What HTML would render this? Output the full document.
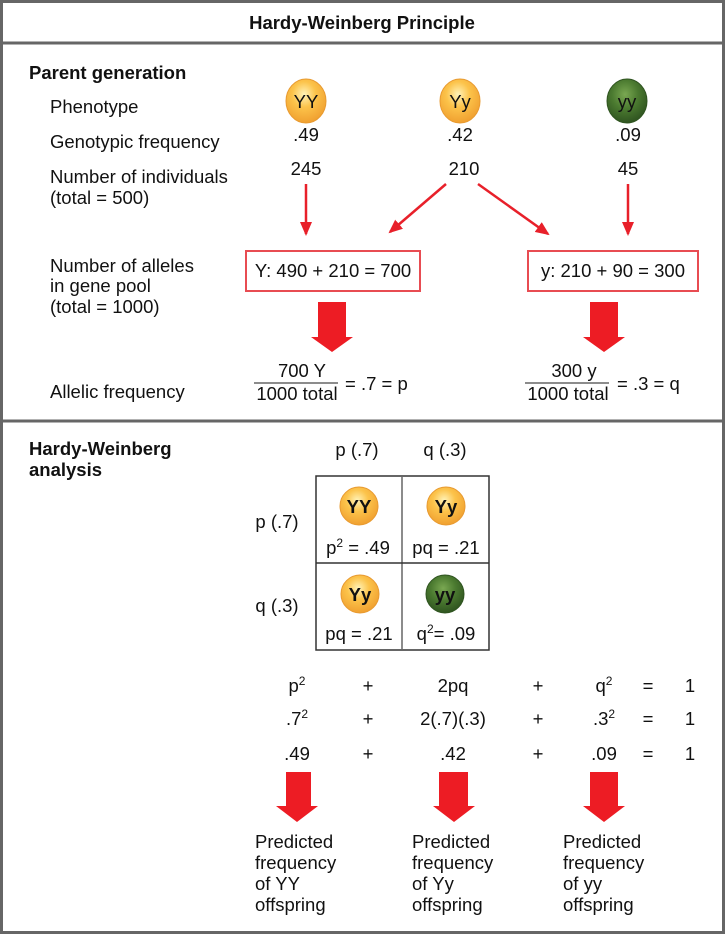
<!DOCTYPE html>
<html><head><meta charset="utf-8"><style>
html,body{margin:0;padding:0;background:#fff}
svg{display:block}
text{font-family:"Liberation Sans",Arial,sans-serif;font-size:18.5px;fill:#111}
</style></head><body>
<svg width="725" height="934" viewBox="0 0 725 934" xmlns="http://www.w3.org/2000/svg">
<defs>
<radialGradient id="yel" cx="45%" cy="35%" r="65%"><stop offset="0" stop-color="#fff3b8"/><stop offset="0.45" stop-color="#fcc34a"/><stop offset="1" stop-color="#f0a030"/></radialGradient>
<radialGradient id="grn" cx="45%" cy="35%" r="65%"><stop offset="0" stop-color="#7aa852"/><stop offset="0.5" stop-color="#4b7a30"/><stop offset="1" stop-color="#2f5420"/></radialGradient>
<marker id="ah" markerWidth="14" markerHeight="12" refX="12" refY="6" orient="auto" markerUnits="userSpaceOnUse"><path d="M0,0 L14,6 L0,12 z" fill="#e8202a"/></marker>
</defs>
<rect x="1.5" y="1.5" width="722" height="931" fill="#fff" stroke="#666" stroke-width="3"/>
<line x1="0" y1="43" x2="725" y2="43" stroke="#666" stroke-width="3"/>
<line x1="0" y1="421" x2="725" y2="421" stroke="#666" stroke-width="3"/>
<text x="362" y="29" text-anchor="middle" font-weight="bold">Hardy-Weinberg Principle</text>

<text x="29" y="79" font-weight="bold">Parent generation</text>
<text x="50" y="113">Phenotype</text>
<text x="50" y="148">Genotypic frequency</text>
<text x="50" y="183">Number of individuals</text>
<text x="50" y="204">(total = 500)</text>
<text x="50" y="272">Number of alleles</text>
<text x="50" y="292">in gene pool</text>
<text x="50" y="313">(total = 1000)</text>
<text x="50" y="398">Allelic frequency</text>

<ellipse cx="306" cy="101" rx="20" ry="22" fill="url(#yel)" stroke="#e89a30"/>
<text x="306" y="108" text-anchor="middle" font-size="20">YY</text>
<ellipse cx="460" cy="101" rx="20" ry="22" fill="url(#yel)" stroke="#e89a30"/>
<text x="460" y="108" text-anchor="middle" font-size="20">Yy</text>
<ellipse cx="627" cy="101" rx="20" ry="22" fill="url(#grn)" stroke="#2f5420"/>
<text x="627" y="108" text-anchor="middle" font-size="20">yy</text>

<text x="306" y="141" text-anchor="middle">.49</text>
<text x="460" y="141" text-anchor="middle">.42</text>
<text x="628" y="141" text-anchor="middle">.09</text>
<text x="306" y="175" text-anchor="middle">245</text>
<text x="464" y="175" text-anchor="middle">210</text>
<text x="628" y="175" text-anchor="middle">45</text>

<g stroke="#e8202a" stroke-width="2.5" marker-end="url(#ah)">
<line x1="306" y1="184" x2="306" y2="234"/>
<line x1="446" y1="184" x2="390" y2="232"/>
<line x1="478" y1="184" x2="548" y2="234"/>
<line x1="628" y1="184" x2="628" y2="234"/>
</g>

<rect x="246" y="251" width="174" height="40" fill="none" stroke="#e84c52" stroke-width="2"/>
<text x="333" y="277" text-anchor="middle">Y: 490 + 210 = 700</text>
<rect x="528" y="251" width="170" height="40" fill="none" stroke="#e84c52" stroke-width="2"/>
<text x="613" y="277" text-anchor="middle">y: 210 + 90 = 300</text>

<path d="M318,302 H346 V337 H353 L332,352 L311,337 H318 Z" fill="#ed1c24"/>
<path d="M590,302 H618 V337 H625 L604,352 L583,337 H590 Z" fill="#ed1c24"/>

<text x="302" y="377" text-anchor="middle">700 Y</text>
<line x1="254" y1="383" x2="338" y2="383" stroke="#666" stroke-width="1.5"/>
<text x="297" y="400" text-anchor="middle">1000 total</text>
<text x="345" y="390">= .7 = p</text>
<text x="574" y="377" text-anchor="middle">300 y</text>
<line x1="525" y1="383" x2="609" y2="383" stroke="#666" stroke-width="1.5"/>
<text x="568" y="400" text-anchor="middle">1000 total</text>
<text x="617" y="390">= .3 = q</text>

<text x="29" y="455" font-weight="bold">Hardy-Weinberg</text>
<text x="29" y="476" font-weight="bold">analysis</text>
<text x="357" y="456" text-anchor="middle">p (.7)</text>
<text x="445" y="456" text-anchor="middle">q (.3)</text>
<text x="277" y="528" text-anchor="middle">p (.7)</text>
<text x="277" y="612" text-anchor="middle">q (.3)</text>

<rect x="316" y="476" width="173" height="174" fill="none" stroke="#333" stroke-width="1.5"/>
<line x1="402" y1="476" x2="402" y2="650" stroke="#666" stroke-width="1.5"/>
<line x1="316" y1="563" x2="489" y2="563" stroke="#333" stroke-width="1.5"/>

<circle cx="359" cy="506" r="19" fill="url(#yel)" stroke="#e89a30"/>
<text x="359" y="513" text-anchor="middle" font-weight="bold" font-size="18">YY</text>
<circle cx="446" cy="506" r="19" fill="url(#yel)" stroke="#e89a30"/>
<text x="446" y="513" text-anchor="middle" font-weight="bold" font-size="18">Yy</text>
<circle cx="360" cy="594" r="19" fill="url(#yel)" stroke="#e89a30"/>
<text x="360" y="601" text-anchor="middle" font-weight="bold" font-size="18">Yy</text>
<circle cx="445" cy="594" r="19" fill="url(#grn)" stroke="#2f5420"/>
<text x="445" y="601" text-anchor="middle" font-weight="bold" font-size="18">yy</text>

<text x="358" y="554" text-anchor="middle">p<tspan font-size="12" dy="-7">2</tspan><tspan dy="7"> = .49</tspan></text>
<text x="446" y="554" text-anchor="middle">pq = .21</text>
<text x="359" y="640" text-anchor="middle">pq = .21</text>
<text x="446" y="640" text-anchor="middle">q<tspan font-size="12" dy="-7">2</tspan><tspan dy="7">= .09</tspan></text>

<g text-anchor="middle">
<text x="297" y="692">p<tspan font-size="12" dy="-7">2</tspan></text>
<text x="368" y="692">+</text>
<text x="453" y="692">2pq</text>
<text x="538" y="692">+</text>
<text x="604" y="692">q<tspan font-size="12" dy="-7">2</tspan></text>
<text x="648" y="692">=</text>
<text x="690" y="692">1</text>
<text x="297" y="725">.7<tspan font-size="12" dy="-7">2</tspan></text>
<text x="368" y="725">+</text>
<text x="453" y="725">2(.7)(.3)</text>
<text x="538" y="725">+</text>
<text x="604" y="725">.3<tspan font-size="12" dy="-7">2</tspan></text>
<text x="648" y="725">=</text>
<text x="690" y="725">1</text>
<text x="297" y="760">.49</text>
<text x="368" y="760">+</text>
<text x="453" y="760">.42</text>
<text x="538" y="760">+</text>
<text x="604" y="760">.09</text>
<text x="648" y="760">=</text>
<text x="690" y="760">1</text>
</g>

<path d="M286,772 H311 V806 H318 L297,822 L276,806 H286 Z" fill="#ed1c24"/>
<path d="M439,772 H468 V806 H475 L454,822 L433,806 H439 Z" fill="#ed1c24"/>
<path d="M590,772 H618 V806 H625 L604,822 L583,806 H590 Z" fill="#ed1c24"/>

<text x="255" y="848">Predicted</text><text x="255" y="869">frequency</text><text x="255" y="890">of YY</text><text x="255" y="911">offspring</text>
<text x="412" y="848">Predicted</text><text x="412" y="869">frequency</text><text x="412" y="890">of Yy</text><text x="412" y="911">offspring</text>
<text x="563" y="848">Predicted</text><text x="563" y="869">frequency</text><text x="563" y="890">of yy</text><text x="563" y="911">offspring</text>
</svg>
</body></html>
